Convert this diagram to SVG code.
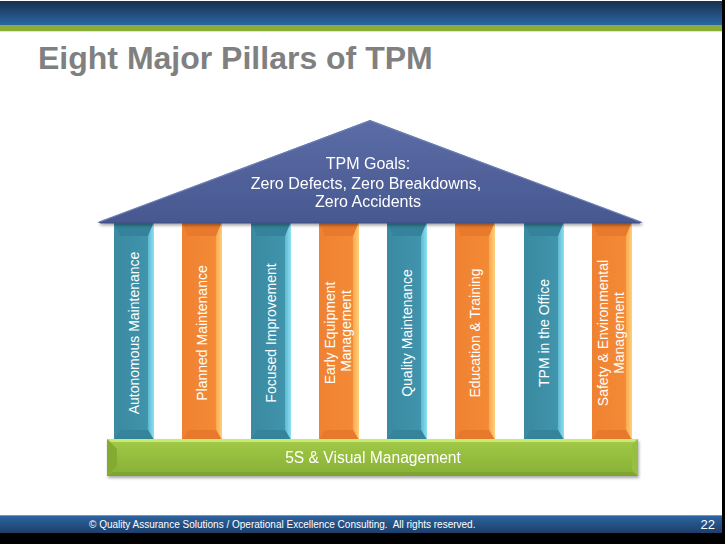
<svg xmlns="http://www.w3.org/2000/svg" width="725" height="544" viewBox="0 0 725 544">
<defs>
<linearGradient id="topbar" x1="0" y1="0" x2="0" y2="1">
<stop offset="0" stop-color="#18304f"/>
<stop offset="1" stop-color="#2b66a3"/>
</linearGradient>
<linearGradient id="footbar" x1="0" y1="0" x2="0" y2="1">
<stop offset="0" stop-color="#2d66a3"/>
<stop offset="1" stop-color="#1d3e68"/>
</linearGradient>
<linearGradient id="roofg" x1="0" y1="0" x2="0" y2="1">
<stop offset="0" stop-color="#5c6ca6"/>
<stop offset="1" stop-color="#475890"/>
</linearGradient>
<linearGradient id="baseg" x1="0" y1="0" x2="0" y2="1">
<stop offset="0" stop-color="#a3ca48"/>
<stop offset="1" stop-color="#86b035"/>
</linearGradient>
<linearGradient id="tealg" x1="0" y1="0" x2="1" y2="0">
<stop offset="0" stop-color="#3a8aa1"/>
<stop offset="0.8" stop-color="#3f93ab"/>
<stop offset="1" stop-color="#4aa4bc"/>
</linearGradient>
<linearGradient id="orangeg" x1="0" y1="0" x2="1" y2="0">
<stop offset="0" stop-color="#ef8232"/>
<stop offset="0.8" stop-color="#f38935"/>
<stop offset="1" stop-color="#f79a45"/>
</linearGradient>
<linearGradient id="trt" x1="0" y1="0" x2="1" y2="0">
<stop offset="0" stop-color="#5cb8d0"/>
<stop offset="1" stop-color="#8ee0f2"/>
</linearGradient>
<linearGradient id="ort" x1="0" y1="0" x2="1" y2="0">
<stop offset="0" stop-color="#f9a850"/>
<stop offset="1" stop-color="#ffd07a"/>
</linearGradient>
<filter id="sh" x="-10%" y="-10%" width="120%" height="130%">
<feGaussianBlur in="SourceAlpha" stdDeviation="1.5"/>
<feOffset dx="1" dy="2" result="b"/>
<feComponentTransfer><feFuncA type="linear" slope="0.35"/></feComponentTransfer>
<feMerge><feMergeNode/><feMergeNode in="SourceGraphic"/></feMerge>
</filter>
</defs>
<style>
.ptxt{font-family:"Liberation Sans",Arial,sans-serif;font-size:14px;fill:#ffffff;text-anchor:middle}
.rtxt{font-family:"Liberation Sans",Arial,sans-serif;font-size:16px;fill:#ffffff;text-anchor:middle}
.teal .main{fill:url(#tealg)}
.teal .top{fill:#34839a}
.teal .rt{fill:url(#trt)}
.teal .bot{fill:#35849b}
.orange .main{fill:url(#orangeg)}
.orange .top{fill:#e97a2d}
.orange .rt{fill:url(#ort)}
.orange .bot{fill:#e8792c}
</style>
<rect x="0" y="0" width="725" height="544" fill="#000000"/>
<rect x="0" y="0" width="722" height="533" fill="#ffffff"/>
<rect x="0" y="1" width="722" height="24" fill="url(#topbar)"/>
<rect x="0" y="25" width="722" height="6" fill="#8aad38"/>
<rect x="0" y="31" width="722" height="1" fill="#dfe8c8"/>
<text x="38" y="69" font-family="Liberation Sans,Arial,sans-serif" font-weight="bold" font-size="32" fill="#808080">Eight Major Pillars of TPM</text>

<g id="pillars">
<g id="p1" class="teal"><rect class="main" x="114" y="222" width="40" height="218"/><polygon class="top" points="114,222 154,222 148,236 120,236"/><polygon class="rt" points="154,222 154,440 148,430 148,236"/><polygon class="bot" points="114,440 154,440 148,430 120,430"/><text class="ptxt" transform="translate(139,333) rotate(-90)">Autonomous Maintenance</text></g>
<g id="p2" class="orange"><rect class="main" x="182" y="222" width="40" height="218"/><polygon class="top" points="182,222 222,222 216,236 188,236"/><polygon class="rt" points="222,222 222,440 216,430 216,236"/><polygon class="bot" points="182,440 222,440 216,430 188,430"/><text class="ptxt" transform="translate(207,333) rotate(-90)">Planned Maintenance</text></g>
<g id="p3" class="teal"><rect class="main" x="251" y="222" width="40" height="218"/><polygon class="top" points="251,222 291,222 285,236 257,236"/><polygon class="rt" points="291,222 291,440 285,430 285,236"/><polygon class="bot" points="251,440 291,440 285,430 257,430"/><text class="ptxt" transform="translate(276,333) rotate(-90)">Focused Improvement</text></g>
<g id="p4" class="orange"><rect class="main" x="319" y="222" width="40" height="218"/><polygon class="top" points="319,222 359,222 353,236 325,236"/><polygon class="rt" points="359,222 359,440 353,430 353,236"/><polygon class="bot" points="319,440 359,440 353,430 325,430"/><text class="ptxt" transform="translate(335,333) rotate(-90)">Early Equipment</text><text class="ptxt" transform="translate(351,331) rotate(-90)">Management</text></g>
<g id="p5" class="teal"><rect class="main" x="387" y="222" width="40" height="218"/><polygon class="top" points="387,222 427,222 421,236 393,236"/><polygon class="rt" points="427,222 427,440 421,430 421,236"/><polygon class="bot" points="387,440 427,440 421,430 393,430"/><text class="ptxt" transform="translate(412,333) rotate(-90)">Quality Maintenance</text></g>
<g id="p6" class="orange"><rect class="main" x="455" y="222" width="40" height="218"/><polygon class="top" points="455,222 495,222 489,236 461,236"/><polygon class="rt" points="495,222 495,440 489,430 489,236"/><polygon class="bot" points="455,440 495,440 489,430 461,430"/><text class="ptxt" transform="translate(480,333) rotate(-90)">Education &amp; Training</text></g>
<g id="p7" class="teal"><rect class="main" x="524" y="222" width="40" height="218"/><polygon class="top" points="524,222 564,222 558,236 530,236"/><polygon class="rt" points="564,222 564,440 558,430 558,236"/><polygon class="bot" points="524,440 564,440 558,430 530,430"/><text class="ptxt" transform="translate(549,333) rotate(-90)">TPM in the Office</text></g>
<g id="p8" class="orange"><rect class="main" x="592" y="222" width="40" height="218"/><polygon class="top" points="592,222 632,222 626,236 598,236"/><polygon class="rt" points="632,222 632,440 626,430 626,236"/><polygon class="bot" points="592,440 632,440 626,430 598,430"/><text class="ptxt" transform="translate(608,333) rotate(-90)">Safety &amp; Environmental</text><text class="ptxt" transform="translate(624,333) rotate(-90)">Management</text></g>
</g>

<g id="roof" filter="url(#sh)">
<polygon points="370,120 643,223 97,223" fill="url(#roofg)"/>
<polyline points="99,222 370,121 641,222" fill="none" stroke="#6b7bb4" stroke-width="1.2"/>
<line x1="100" y1="223" x2="640" y2="223" stroke="#3d4d82" stroke-width="1"/>
<text class="rtxt" x="368" y="169">TPM Goals:</text>
<text class="rtxt" x="366" y="189">Zero Defects, Zero Breakdowns,</text>
<text class="rtxt" x="368" y="207">Zero Accidents</text>
</g>

<g id="base" filter="url(#sh)">
<rect x="107" y="439" width="531" height="37" fill="url(#baseg)"/>
<polygon points="107,439 638,439 634,442 111,442" fill="#c8ec72"/>
<polygon points="107,439 117,449 117,466 107,476" fill="#84aa33"/>
<polygon points="638,439 638,476 632,470 632,445" fill="#98c040"/>
<polygon points="107,476 638,476 632,472 113,472" fill="#7ea432"/>
<text x="373" y="463" font-family="Liberation Sans,Arial,sans-serif" font-size="15.6" fill="#ffffff" text-anchor="middle">5S &amp; Visual Management</text>
</g>

<rect x="0" y="515" width="722" height="18" fill="url(#footbar)"/>
<rect x="0" y="515" width="722" height="1" fill="#6a9ad0"/>
<text x="89" y="528" font-family="Liberation Sans,Arial,sans-serif" font-size="10" fill="#ffffff" xml:space="preserve">© Quality Assurance Solutions / Operational Excellence Consulting.  All rights reserved.</text>
<text x="715" y="529" font-family="Liberation Sans,Arial,sans-serif" font-size="13" fill="#ffffff" text-anchor="end">22</text>
</svg>
